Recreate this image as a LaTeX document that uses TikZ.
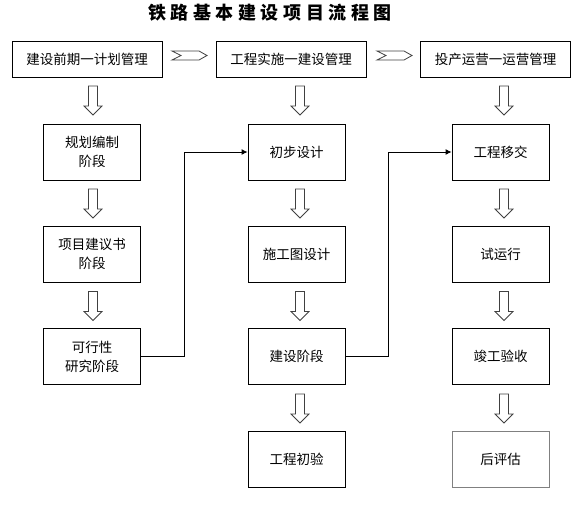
\documentclass[tikz,border=0pt]{standalone}
\usepackage{fontspec}
\setmainfont{Noto Sans CJK SC}
\usetikzlibrary{arrows.meta}
\newcommand\tsp{\hspace{4.6pt}}
\begin{document}
\begin{tikzpicture}[x=1pt,y=-1pt,
  box/.style={draw, line width=0.9pt, minimum width=97pt, minimum height=56pt, inner sep=0pt, align=center, font=\fontsize{13.5}{19}\selectfont},
  hbox/.style={draw, line width=0.9pt, minimum width=150pt, minimum height=36pt, inner sep=0pt, font=\fontsize{13.5}{19}\selectfont},
  harrow/.style={draw=black!75, line width=0.8pt, fill=white, line join=miter},
  conn/.style={line width=0.9pt, -{Latex[length=6pt,width=6pt]}},
  downarr/.pic={\draw[harrow] (-4.5,0) -- (4.5,0) -- (4.5,20) -- (9,20) -- (0,29) -- (-9,20) -- (-4.5,20) -- cycle;}
]
\useasboundingbox (0,0) rectangle (585,506);
\node[font=\fontsize{18}{20}\selectfont\bfseries] (title) at (270,13) {铁\tsp 路\tsp 基\tsp 本\tsp 建\tsp 设\tsp 项\tsp 目\tsp 流\tsp 程\tsp 图};

\node[hbox] (h1) at (87,59) {建设前期一计划管理};
\node[hbox] (h2) at (291,59) {工程实施一建设管理};
\node[hbox] (h3) at (495.5,59) {投产运营一运营管理};

\draw[harrow] (172,51) -- (199,51) -- (207,55.5) -- (199,60) -- (172,60) -- (181,55.5) -- cycle;
\draw[harrow] (377,51) -- (404,51) -- (412,55.5) -- (404,60) -- (377,60) -- (386,55.5) -- cycle;

\node[box] (a1) at (92,152) {规划编制\\阶段};
\node[box] (a2) at (92,254) {项目建议书\\阶段};
\node[box] (a3) at (92,356.5) {可行性\\研究阶段};

\node[box] (b1) at (296.5,152) {初步设计};
\node[box] (b2) at (296.5,254) {施工图设计};
\node[box] (b3) at (296.5,356.5) {建设阶段};
\node[box] (b4) at (296.5,459) {工程初验};

\node[box] (c1) at (500.5,152) {工程移交};
\node[box] (c2) at (500.5,254) {试运行};
\node[box] (c3) at (500.5,356.5) {竣工验收};
\node[box, draw=black!50] (c4) at (500.5,459) {后评估};

\foreach \x in {93,300,504}{
  \pic at (\x,86) {downarr};
  \pic at (\x,189) {downarr};
  \pic at (\x,291.5) {downarr};
}
\foreach \x in {300,504}{
  \pic at (\x,394) {downarr};
}

\draw[conn] (a3.east) -- ++(43,0) |- (b1.west);
\draw[conn] (b3.east) -- ++(43,0) |- (c1.west);
\end{tikzpicture}
\end{document}
